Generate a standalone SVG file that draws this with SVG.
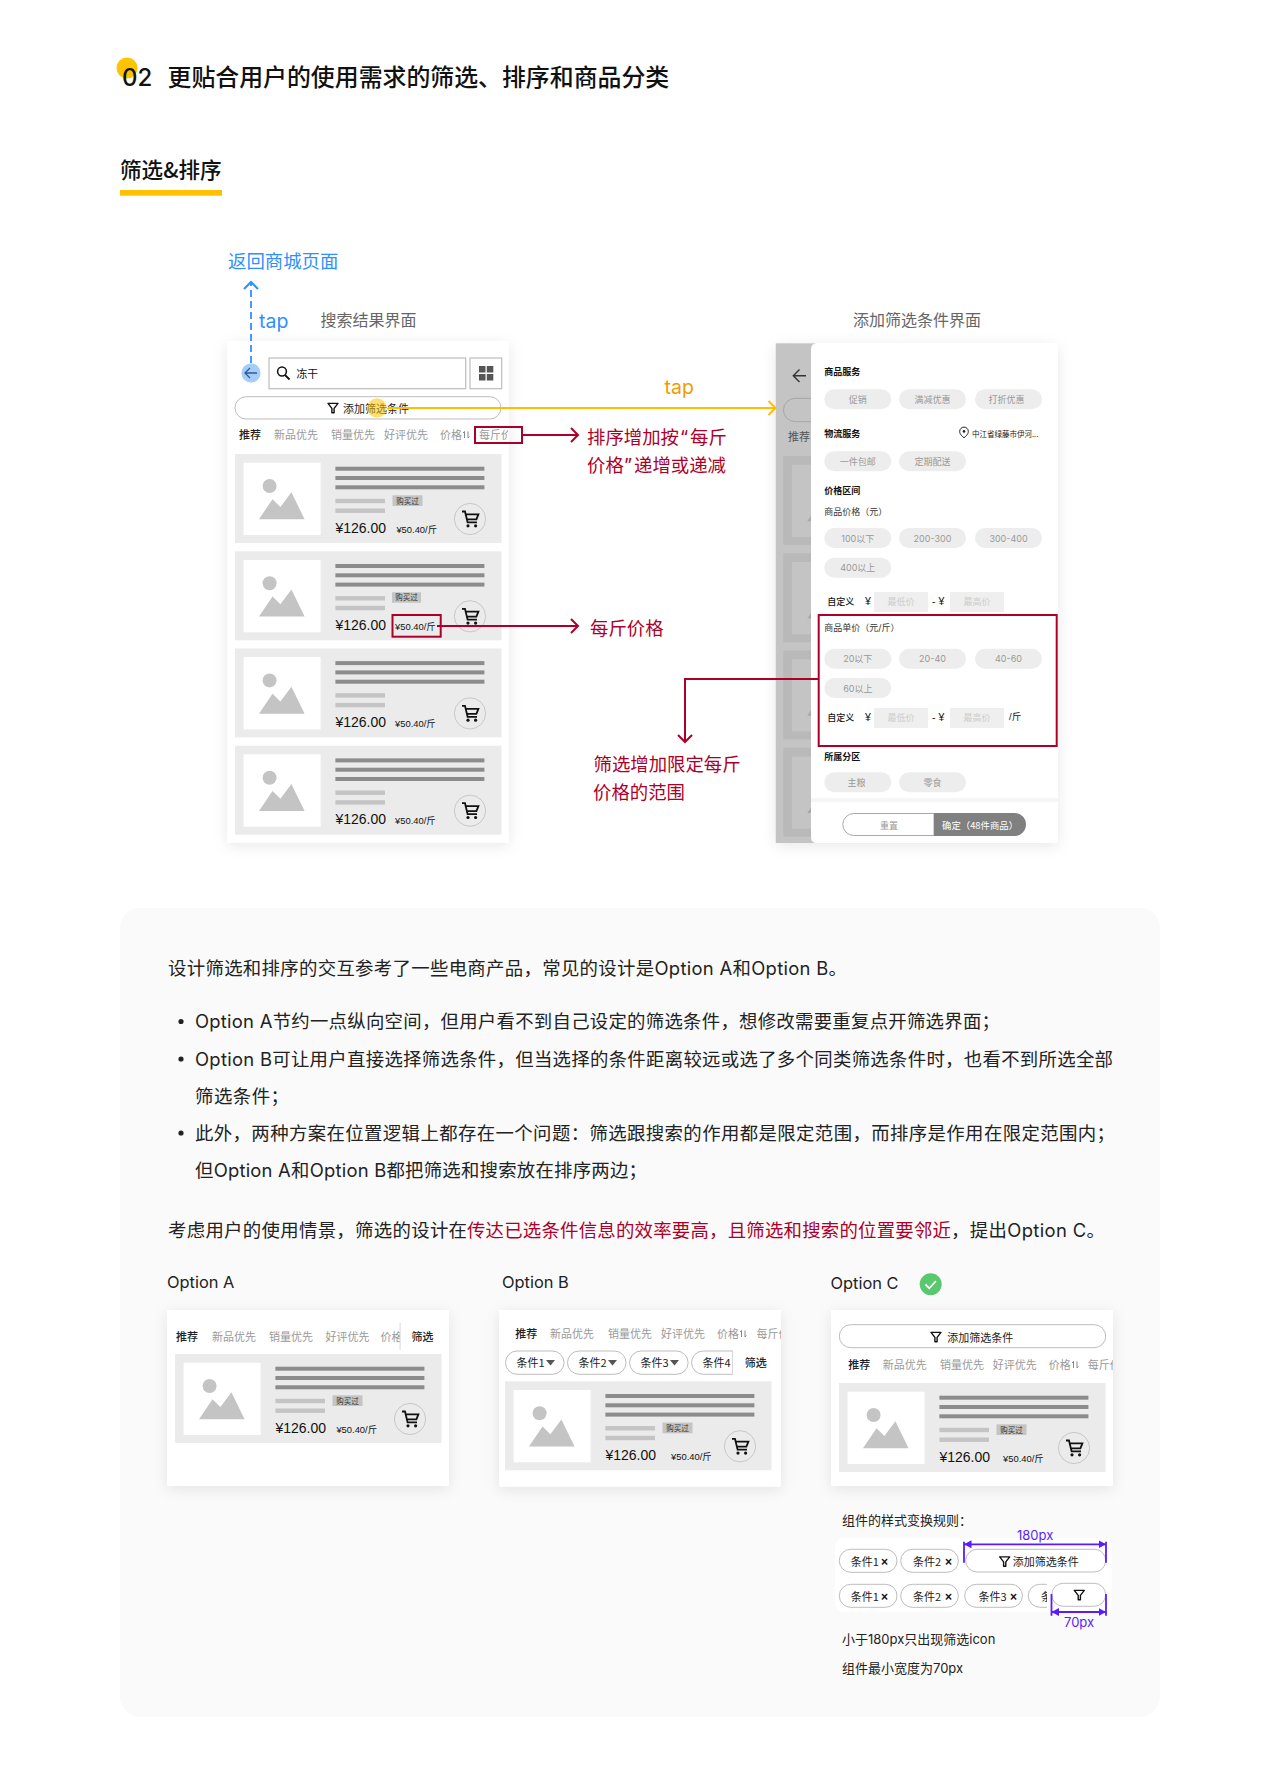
<svg xmlns="http://www.w3.org/2000/svg" xmlns:xlink="http://www.w3.org/1999/xlink" width="1280" height="1787" viewBox="0 0 1280 1787">
<style>
text{font-family:"Inter","Noto Sans CJK SC",sans-serif;fill:#111}
.cjk{font-family:"Noto Sans CJK SC",sans-serif}
.ar{font-family:"Liberation Sans","Noto Sans CJK SC",sans-serif}
.b{font-weight:700}
.tab{font-size:11px;fill:#999;font-family:"Noto Sans CJK SC",sans-serif}
.on{fill:#222;font-weight:500}
.body{font-size:18.4px;fill:#222}
.red{fill:#AD0029;font-size:18.4px;font-family:"Noto Sans CJK SC",sans-serif}
.q{font-family:"Inter",sans-serif}
.chip{fill:#EDEDED}
.ct{font-size:9px;fill:#999;text-anchor:middle}
.h9{font-size:9px;font-weight:700;fill:#111;font-family:"Noto Sans CJK SC",sans-serif}
.pill{fill:#fff;stroke:#BDBDBD;stroke-width:1}
.rl{stroke:#AD0029;stroke-width:2;fill:none}
.pu{stroke:#5A1CFF;stroke-width:1.8;fill:none}
.put{fill:#5A1CFF;font-size:13px}
.rt{font-size:13px;fill:#222}
.sm{font-size:11px;fill:#222;font-family:"Noto Sans CJK SC",sans-serif}
.price{font-size:14px;fill:#111;font-family:"Liberation Sans",sans-serif}
.unit{font-size:9.4px;fill:#111;font-family:"Liberation Sans","Noto Sans CJK SC",sans-serif}
.tag{font-size:7.5px;fill:#333;text-anchor:middle;font-family:"Noto Sans CJK SC",sans-serif}
.tagb{fill:#C4C4C4}
.frame{fill:#fff;filter:url(#sh)}
.opt{font-size:16.4px;fill:#222}
</style>
<defs>
<filter id="sh" x="-15%" y="-15%" width="130%" height="130%"><feDropShadow dx="0" dy="3" stdDeviation="7" flood-color="#000" flood-opacity=".09"/></filter>
<marker id="ah-r" viewBox="0 0 18 18" markerWidth="18" markerHeight="18" refX="9" refY="9" orient="auto" markerUnits="userSpaceOnUse"><path d="M2 2 L9 9 L2 16" fill="none" stroke="#AD0029" stroke-width="2"/></marker>
<marker id="ah-y" viewBox="0 0 18 18" markerWidth="18" markerHeight="18" refX="9" refY="9" orient="auto" markerUnits="userSpaceOnUse"><path d="M2 2 L9 9 L2 16" fill="none" stroke="#FFBE00" stroke-width="2"/></marker>
<marker id="ah-b" viewBox="0 0 18 18" markerWidth="18" markerHeight="18" refX="9" refY="9" orient="auto" markerUnits="userSpaceOnUse"><path d="M2 2 L9 9 L2 16" fill="none" stroke="#2F8FFF" stroke-width="2"/></marker>
<marker id="ah-p" viewBox="0 0 8 8" markerWidth="8" markerHeight="8" refX="7.5" refY="4" orient="auto-start-reverse" markerUnits="userSpaceOnUse"><path d="M0 0 L7.5 4 L0 8 Z" fill="#5A1CFF"/></marker>
<g id="funnel"><path d="M-5 -4.6 H5 L1.1 0.4 V4.8 H-1.1 V0.4 Z" fill="none" stroke="#111" stroke-width="1.4" stroke-linejoin="round"/></g>
<g id="sort"><path d="M1.5 7 V0.5 M0 2 L1.5 0.5 M5 0.5 V7 M5 7 L6.5 5.5" fill="none" stroke="#888" stroke-width="1"/></g>
<g id="cardbase">
<rect width="266.5" height="89" fill="#EBEBEB"/>
<rect x="8.6" y="8.7" width="77" height="72.3" fill="#fff"/>
<circle cx="34.6" cy="32" r="7" fill="#C4C4C4"/>
<path d="M24 65.3 L37.5 45.3 L45.4 53 L56.4 38.3 L69.6 65.3 Z" fill="#C4C4C4"/>
<rect x="100.4" y="12.7" width="149" height="4" fill="#8C8C8C"/>
<rect x="100.4" y="22" width="149" height="4" fill="#8C8C8C"/>
<rect x="100.4" y="31.3" width="149" height="4" fill="#8C8C8C"/>
<rect x="100.4" y="44.8" width="49.6" height="4.4" fill="#C4C4C4"/>
<rect x="100.4" y="54.5" width="49.6" height="4.4" fill="#C4C4C4"/>
<circle cx="235" cy="65" r="15.6" fill="#EBEBEB" stroke="#C8C8C8"/>
<path d="M227 57.5 H230 L232.6 68.4 H242 M230.6 60.4 H243.4 L241.4 65.4 H231.8" fill="none" stroke="#111" stroke-width="1.8"/>
<circle cx="233" cy="71.8" r="1.6" fill="#111"/><circle cx="240.6" cy="71.8" r="1.6" fill="#111"/>
</g>
<g id="graycard"><rect width="240" height="89" fill="#B9B9B9"/><rect x="8.6" y="8.7" width="77" height="72.3" fill="#C4C4C4"/><path d="M24 65.3 L37.5 45.3 L40 65.3 Z" fill="#A8A8A8"/></g>
<clipPath id="c1"><rect x="470" y="425" width="38" height="20"/></clipPath>
<clipPath id="cA"><rect x="370" y="1325" width="30" height="22"/></clipPath>
<clipPath id="cB"><rect x="750" y="1320" width="31" height="25"/></clipPath>
<clipPath id="cC"><rect x="1080" y="1350" width="33" height="25"/></clipPath>
<clipPath id="cB4"><rect x="690" y="1348" width="42.4" height="30"/></clipPath>
<clipPath id="c4"><rect x="1020" y="1580" width="27" height="30"/></clipPath>
</defs>

<rect width="1280" height="1787" fill="#fff"/>

<g id="heading">
<circle cx="127" cy="68" r="10.5" fill="#FFC400"/>
<text x="122" y="86" font-size="24" font-weight="500" fill="#000" style="font-family:Inter,sans-serif">02</text>
<text x="167.5" y="86" font-size="23.9" class="cjk" font-weight="500" fill="#000">更贴合用户的使用需求的筛选、排序和商品分类</text>
<text x="120" y="177.5" font-size="21.6" class="cjk" font-weight="500" fill="#111">筛选&amp;排序</text>
<rect x="120" y="190" width="102" height="5.7" fill="#FFC000"/>
</g>

<g id="screen-results">
<rect class="frame" x="227" y="341" width="282" height="501.7"/>
<g id="search-bar">
<circle cx="251" cy="373" r="9.6" fill="#A6CDF8"/>
<path d="M257 373 H245.5 M250 368 L245 373 L250 378" fill="none" stroke="#2B5C99" stroke-width="1.3"/>
<rect x="269" y="358" width="196.7" height="30.7" fill="#fff" stroke="#BDBDBD" stroke-width="1.2"/>
<circle cx="282" cy="371.5" r="4.4" fill="none" stroke="#111" stroke-width="1.5"/><path d="M285 375 L289.5 379.5" stroke="#111" stroke-width="1.8"/>
<text x="296.5" y="377.5" class="cjk" font-size="10.8" fill="#222">冻干</text>
<rect x="470" y="358" width="31.7" height="30.7" fill="#fff" stroke="#BDBDBD" stroke-width="1.2"/>
<path d="M479 366 h6.5 v6.5 h-6.5 Z M486.8 366 h6.5 v6.5 h-6.5 Z M479 374 h6.5 v6.5 h-6.5 Z M486.8 374 h6.5 v6.5 h-6.5 Z" fill="#555"/>
</g>
<g id="add-filter">
<rect class="pill" x="235" y="396.7" width="266" height="22.3" rx="11.1"/>
<use href="#funnel" x="333" y="408"/>
<text x="343" y="412.5" class="sm" fill="#222">添加筛选条件</text>
<circle cx="377" cy="408" r="9.7" fill="#FFC400" fill-opacity=".55"/>
</g>
<g id="sort-tabs">
<text x="239" y="439" class="tab on">推荐</text>
<text x="274" y="439" class="tab">新品优先</text>
<text x="331" y="439" class="tab">销量优先</text>
<text x="384" y="439" class="tab">好评优先</text>
<text x="440" y="439" class="tab">价格</text>
<use href="#sort" x="463" y="431"/>
<text x="479" y="439" class="tab" clip-path="url(#c1)">每斤价</text>
</g>
<g id="product-1" transform="translate(235 454)"><use href="#cardbase"/><rect class="tagb" x="157.5" y="41.3" width="30" height="10.7"/><text x="172.5" y="49.6" class="tag">购买过</text><text x="100.4" y="78.7" class="price">¥126.00</text><text x="161.4" y="78.7" class="unit">¥50.40/斤</text></g>
<g id="product-2" transform="translate(235 551.3)"><use href="#cardbase"/><rect class="tagb" x="157" y="41" width="29" height="10.4"/><text x="171.5" y="49.2" class="tag">购买过</text><text x="100.4" y="78.7" class="price">¥126.00</text><text x="160" y="78.7" class="unit">¥50.40/斤</text></g>
<g id="product-3" transform="translate(235 648.4)"><use href="#cardbase"/><text x="100.4" y="78.7" class="price">¥126.00</text><text x="160" y="78.7" class="unit">¥50.40/斤</text></g>
<g id="product-4" transform="translate(235 745.7)"><use href="#cardbase"/><text x="100.4" y="78.7" class="price">¥126.00</text><text x="160" y="78.7" class="unit">¥50.40/斤</text></g>
</g>

<g id="screen-filter">
<rect class="frame" x="775.7" y="343.3" width="282.3" height="499.7"/>
<rect x="775.7" y="343.3" width="40" height="499.7" fill="#C4C4C4"/>
<use href="#graycard" x="783.3" y="456"/><use href="#graycard" x="783.3" y="553.3"/><use href="#graycard" x="783.3" y="650.5"/><use href="#graycard" x="783.3" y="747.8"/>
<path d="M806 375.7 H794 M799.5 369.5 L793.3 375.7 L799.5 382" fill="none" stroke="#333" stroke-width="1.4"/>
<rect x="783.5" y="398.3" width="60" height="23.4" rx="11.7" fill="#C4C4C4" stroke="#A5A5A5"/>
<text x="788" y="441" class="cjk" font-size="11" style="fill:#555">推荐</text>
<path d="M817 343.3 H1058 V843 H817 Q811 843 811 837 V349.3 Q811 343.3 817 343.3 Z" fill="#fff"/>
<text x="824.3" y="375" class="h9">商品服务</text>
<rect class="chip" x="824.3" y="389.3" width="67" height="20" rx="10"/><text x="857.8" y="402.8" class="ct">促销</text>
<rect class="chip" x="899" y="389.3" width="67" height="20" rx="10"/><text x="932.5" y="402.8" class="ct">满减优惠</text>
<rect class="chip" x="975" y="389.3" width="67" height="20" rx="10"/><text x="1006.5" y="402.8" class="ct">打折优惠</text>
<text x="824.3" y="437.3" class="h9">物流服务</text>
<path d="M964 437.8 C960.5 435 959.7 433.2 959.7 431.4 A4.3 4.3 0 0 1 968.3 431.4 C968.3 433.2 967.5 435 964 437.8 Z" fill="none" stroke="#222"/><circle cx="964" cy="431.4" r="1.3" fill="#222"/>
<text x="972" y="437" class="cjk" font-size="7.5" style="fill:#222">中江省绿藤市伊河...</text>
<rect class="chip" x="824.3" y="451.3" width="67" height="20" rx="10"/><text x="857.8" y="464.8" class="ct">一件包邮</text>
<rect class="chip" x="899" y="451.3" width="67" height="20" rx="10"/><text x="932.5" y="464.8" class="ct">定期配送</text>
<text x="824.3" y="493.7" class="h9">价格区间</text>
<text x="824.3" y="514.7" font-size="9" style="fill:#333">商品价格（元）</text>
<rect class="chip" x="824.3" y="528" width="67" height="20" rx="10"/><text x="857.8" y="541.5" class="ct">100以下</text>
<rect class="chip" x="899" y="528" width="67" height="20" rx="10"/><text x="932.5" y="541.5" class="ct">200-300</text>
<rect class="chip" x="975" y="528" width="67" height="20" rx="10"/><text x="1008.5" y="541.5" class="ct">300-400</text>
<rect class="chip" x="824.3" y="557.7" width="67" height="20" rx="10"/><text x="857.8" y="571.2" class="ct">400以上</text>
<text x="827.3" y="605" font-size="9" font-weight="500">自定义</text>
<text x="865" y="604.5" class="ar" font-size="10.5">¥</text>
<rect x="874" y="592" width="54" height="20" fill="#EFEFEF"/><text x="901" y="605" class="ct" style="fill:#CCC">最低价</text>
<text x="932" y="605" class="ar" font-size="10.5">- ¥</text>
<rect x="950" y="592" width="54" height="20" fill="#EFEFEF"/><text x="977" y="605" class="ct" style="fill:#CCC">最高价</text>
<text x="824.3" y="631" font-size="9" style="fill:#333">商品单价（元/斤）</text>
<rect class="chip" x="824.3" y="648.7" width="67" height="20" rx="10"/><text x="857.8" y="662.2" class="ct">20以下</text>
<rect class="chip" x="899" y="648.7" width="67" height="20" rx="10"/><text x="932.5" y="662.2" class="ct">20-40</text>
<rect class="chip" x="975" y="648.7" width="67" height="20" rx="10"/><text x="1008.5" y="662.2" class="ct">40-60</text>
<rect class="chip" x="824.3" y="678" width="67" height="20" rx="10"/><text x="857.8" y="691.5" class="ct">60以上</text>
<text x="827.3" y="721" font-size="9" font-weight="500">自定义</text>
<text x="865" y="720.5" class="ar" font-size="10.5">¥</text>
<rect x="874" y="708" width="54" height="20" fill="#EFEFEF"/><text x="901" y="721" class="ct" style="fill:#CCC">最低价</text>
<text x="932" y="721" class="ar" font-size="10.5">- ¥</text>
<rect x="950" y="708" width="54" height="20" fill="#EFEFEF"/><text x="977" y="721" class="ct" style="fill:#CCC">最高价</text>
<text x="1009" y="720" class="ar" font-size="9.5">/斤</text>
<rect x="818.7" y="615" width="238" height="131" class="rl"/>
<text x="824.3" y="760" class="h9">所属分区</text>
<rect class="chip" x="824.3" y="772.3" width="67" height="20" rx="10"/><text x="856.5" y="785.8" class="ct">主粮</text>
<rect class="chip" x="899" y="772.3" width="67" height="20" rx="10"/><text x="932.5" y="785.8" class="ct">零食</text>
<rect x="811" y="798" width="247" height="4" fill="#F6F6F6"/>
<path d="M934 813.5 H853.8 A11 11 0 0 0 853.8 835.5 H934 Z" fill="#fff" stroke="#A8A8A8"/>
<path d="M934 813 H1014.5 A11.5 11.5 0 0 1 1014.5 836 H934 Z" fill="#808080"/>
<text x="889" y="829" class="ct" style="fill:#999">重置</text>
<text x="942" y="829" font-size="9.4" style="fill:#fff" class="cjk">确定（48件商品）</text>
</g>

<g id="connectors">
<path d="M251 363 V282" fill="none" stroke="#2F8FFF" stroke-width="1.8" stroke-dasharray="7 4" marker-end="url(#ah-b)"/>
<path d="M388 408 H775.5" fill="none" stroke="#FFBE00" stroke-width="1.8" marker-end="url(#ah-y)"/>
<path d="M522 435 H578" class="rl" marker-end="url(#ah-r)"/>
<path d="M437 626 H578" class="rl" marker-end="url(#ah-r)"/>
<path d="M818 679 H685 V742" class="rl" marker-end="url(#ah-r)"/>
<rect x="475" y="427" width="47" height="16" class="rl"/>
<rect x="392.5" y="615" width="48.2" height="21.7" class="rl"/>
</g>

<g id="labels">
<text x="228" y="268" font-size="18.4" style="fill:#2F8FFF" class="cjk">返回商城页面</text>
<text x="259" y="328" font-size="19.5" style="fill:#2F8FFF">tap</text>
<text x="320.5" y="326" font-size="16" style="fill:#666" class="cjk">搜索结果界面</text>
<text x="853" y="326" font-size="16" style="fill:#666" class="cjk">添加筛选条件界面</text>
<text x="664.5" y="394" font-size="19.5" style="fill:#F39A00">tap</text>
<text x="587" y="443.5" class="red">排序增加按<tspan class="q" x="680">“</tspan><tspan x="690">每斤</tspan></text>
<text x="587" y="471.5" class="red">价格<tspan class="q" x="624">”</tspan><tspan x="634">递增或递减</tspan></text>
<text x="590" y="635" class="red">每斤价格</text>
<text x="593.5" y="771" class="red">筛选增加限定每斤</text>
<text x="593" y="799" class="red">价格的范围</text>
</g>

<g id="analysis">
<rect x="120" y="908" width="1040" height="808.7" rx="20" fill="#FAFAFA"/>
<text x="168" y="975" class="body" textLength="679" lengthAdjust="spacing">设计筛选和排序的交互参考了一些电商产品，常见的设计是Option A和Option B。</text>
<circle cx="181" cy="1021.5" r="2.6" fill="#222"/>
<text x="195" y="1028" class="body" textLength="805" lengthAdjust="spacing">Option A节约一点纵向空间，但用户看不到自己设定的筛选条件，想修改需要重复点开筛选界面；</text>
<circle cx="181" cy="1059" r="2.6" fill="#222"/>
<text x="195" y="1065.5" class="body" textLength="918" lengthAdjust="spacing">Option B可让用户直接选择筛选条件，但当选择的条件距离较远或选了多个同类筛选条件时，也看不到所选全部</text>
<text x="195" y="1102.5" class="body" textLength="94" lengthAdjust="spacing">筛选条件；</text>
<circle cx="181" cy="1133" r="2.6" fill="#222"/>
<text x="195" y="1139.5" class="body" textLength="920" lengthAdjust="spacing">此外，两种方案在位置逻辑上都存在一个问题：筛选跟搜索的作用都是限定范围，而排序是作用在限定范围内；</text>
<text x="195" y="1177" class="body" textLength="452" lengthAdjust="spacing">但Option A和Option B都把筛选和搜索放在排序两边；</text>
<text x="168" y="1236.5" class="body" textLength="299" lengthAdjust="spacing">考虑用户的使用情景，筛选的设计在</text>
<text x="467" y="1236.5" class="body" style="fill:#AD0029" textLength="484" lengthAdjust="spacing">传达已选条件信息的效率要高，且筛选和搜索的位置要邻近</text>
<text x="951" y="1236.5" class="body" textLength="154" lengthAdjust="spacing">，提出Option C。</text>
</g>

<g id="option-a">
<text x="167" y="1288" class="opt">Option A</text>
<rect class="frame" x="167" y="1310" width="282" height="176"/>
<text x="176" y="1340.5" class="tab on">推荐</text>
<text x="212" y="1340.5" class="tab">新品优先</text>
<text x="269" y="1340.5" class="tab">销量优先</text>
<text x="325.5" y="1340.5" class="tab">好评优先</text>
<text x="380.6" y="1340.5" class="tab" clip-path="url(#cA)">价格</text>
<rect x="399.6" y="1323" width="1" height="27" fill="#D8D8D8"/>
<text x="411.5" y="1340.5" class="tab on">筛选</text>
<g transform="translate(175 1354)"><use href="#cardbase"/><rect class="tagb" x="157.5" y="41.3" width="30" height="10.7"/><text x="172.5" y="49.6" class="tag">购买过</text><text x="100.4" y="78.7" class="price">¥126.00</text><text x="161.4" y="78.7" class="unit">¥50.40/斤</text></g>
</g>

<g id="option-b">
<text x="502" y="1288" class="opt">Option B</text>
<rect class="frame" x="499" y="1310" width="282" height="176.7"/>
<text x="515.3" y="1338" class="tab on">推荐</text>
<text x="550" y="1338" class="tab">新品优先</text>
<text x="608" y="1338" class="tab">销量优先</text>
<text x="661" y="1338" class="tab">好评优先</text>
<text x="717" y="1338" class="tab">价格</text>
<use href="#sort" x="740" y="1330"/>
<text x="756.5" y="1338" class="tab" clip-path="url(#cB)">每斤价</text>
<rect class="pill" x="505.5" y="1351" width="58.5" height="23.3" rx="11.6"/><text x="516.5" y="1366.7" class="sm">条件1</text><path d="M546 1360 H555 L550.5 1365.5 Z" fill="#555"/>
<rect class="pill" x="567.5" y="1351" width="58.5" height="23.3" rx="11.6"/><text x="578.5" y="1366.7" class="sm">条件2</text><path d="M608 1360 H617 L612.5 1365.5 Z" fill="#555"/>
<rect class="pill" x="629.6" y="1351" width="58.5" height="23.3" rx="11.6"/><text x="640.6" y="1366.7" class="sm">条件3</text><path d="M670 1360 H679 L674.5 1365.5 Z" fill="#555"/>
<g clip-path="url(#cB4)"><rect class="pill" x="691.6" y="1351" width="58.5" height="23.3" rx="11.6"/><text x="702.6" y="1366.7" class="sm">条件4</text></g>
<rect x="732" y="1350" width="1" height="25" fill="#D8D8D8"/>
<text x="744.7" y="1366.7" class="tab on">筛选</text>
<g transform="translate(505 1381.3)"><use href="#cardbase"/><rect class="tagb" x="157.5" y="41.3" width="30" height="10.7"/><text x="172.5" y="49.6" class="tag">购买过</text><text x="100.4" y="78.7" class="price">¥126.00</text><text x="166" y="78.7" class="unit">¥50.40/斤</text></g>
</g>

<g id="option-c">
<text x="830.5" y="1288.5" class="opt">Option C</text>
<circle cx="930.7" cy="1284.3" r="11" fill="#5AC86E"/><path d="M925.5 1284.5 L929.3 1288.3 L936 1281" fill="none" stroke="#fff" stroke-width="1.8"/>
<rect class="frame" x="831" y="1310" width="282" height="176"/>
<rect class="pill" x="839.3" y="1324.7" width="266.4" height="23" rx="11.5"/>
<use href="#funnel" x="936" y="1337"/>
<text x="947.3" y="1341.5" class="sm">添加筛选条件</text>
<text x="848.3" y="1369.3" class="tab on">推荐</text>
<text x="882.7" y="1369.3" class="tab">新品优先</text>
<text x="940" y="1369.3" class="tab">销量优先</text>
<text x="992.7" y="1369.3" class="tab">好评优先</text>
<text x="1048.7" y="1369.3" class="tab">价格</text>
<use href="#sort" x="1072" y="1361"/>
<text x="1087.7" y="1369.3" class="tab" clip-path="url(#cC)">每斤价</text>
<g transform="translate(839 1383)"><use href="#cardbase"/><rect class="tagb" x="157.5" y="41.3" width="30" height="10.7"/><text x="172.5" y="49.6" class="tag">购买过</text><text x="100.4" y="78.7" class="price">¥126.00</text><text x="164" y="78.7" class="unit">¥50.40/斤</text></g>
</g>

<g id="component-rules">
<text x="842" y="1525" class="rt">组件的样式变换规则：</text>
<rect x="835" y="1538.3" width="276.7" height="74" rx="8" fill="#fff"/>
<rect class="pill" x="839.3" y="1549.3" width="57.7" height="23" rx="11.5"/><text x="850.7" y="1566" class="sm">条件1</text><text x="881" y="1566" class="ar b" font-size="12">×</text>
<rect class="pill" x="900.7" y="1549.3" width="57.7" height="23" rx="11.5"/><text x="913" y="1566" class="sm">条件2</text><text x="945" y="1566" class="ar b" font-size="12">×</text>
<rect class="pill" x="965.7" y="1549.3" width="140" height="22.7" rx="11.3"/>
<use href="#funnel" x="1004.7" y="1561.5"/>
<text x="1012.7" y="1565.5" class="sm">添加筛选条件</text>
<rect class="pill" x="839.3" y="1584.3" width="57.7" height="23" rx="11.5"/><text x="850.7" y="1601" class="sm">条件1</text><text x="881" y="1601" class="ar b" font-size="12">×</text>
<rect class="pill" x="900.7" y="1584.3" width="57.7" height="23" rx="11.5"/><text x="913" y="1601" class="sm">条件2</text><text x="945" y="1601" class="ar b" font-size="12">×</text>
<rect class="pill" x="964.7" y="1584.3" width="57.7" height="23" rx="11.5"/><text x="978.5" y="1601" class="sm">条件3</text><text x="1010" y="1601" class="ar b" font-size="12">×</text>
<g clip-path="url(#c4)"><rect class="pill" x="1028.3" y="1584.3" width="57.7" height="23" rx="11.5"/><text x="1041" y="1601" class="sm">条</text></g>
<rect class="pill" x="1051.7" y="1583.3" width="54" height="23" rx="11.5"/>
<use href="#funnel" x="1079.3" y="1595"/>
<path d="M964 1544.3 H1106" class="pu" marker-start="url(#ah-p)" marker-end="url(#ah-p)"/>
<path d="M964 1541.7 V1562.7 M1106 1541.7 V1562.7 M1051.5 1594 V1615.7 M1106 1594 V1615.7" class="pu"/>
<path d="M1051.5 1612 H1106" class="pu" marker-start="url(#ah-p)" marker-end="url(#ah-p)"/>
<text x="1017" y="1540" class="put">180px</text>
<text x="1064" y="1627" class="put">70px</text>
<text x="842" y="1643.7" class="rt">小于180px只出现筛选icon</text>
<text x="842" y="1672.7" class="rt">组件最小宽度为70px</text>
</g>
</svg>
